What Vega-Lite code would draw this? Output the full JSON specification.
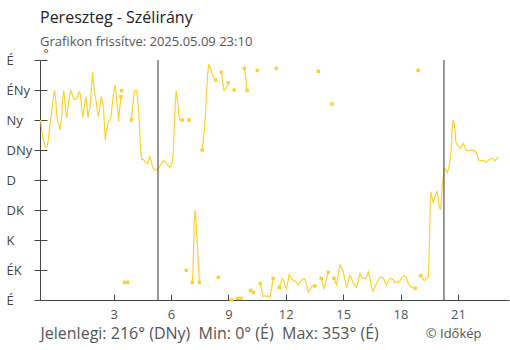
{
  "$schema": "https://vega.github.io/schema/vega-lite/v6.json",
  "width": 469,
  "height": 240,
  "autosize": {"type": "none"},
  "padding": {"left": 40, "top": 60, "right": 1, "bottom": 50},
  "background": "white",
  "config": {"view": {"stroke": null}, "font": "Open Sans"},
  "title": {
    "text": "Pereszteg - Szélirány",
    "subtitle": "Grafikon frissítve: 2025.05.09 23:10",
    "anchor": "start",
    "frame": "group",
    "fontSize": 16,
    "fontWeight": "normal",
    "color": "#222",
    "subtitleFontSize": 13,
    "subtitleColor": "#555",
    "subtitlePadding": 10,
    "offset": -2
  },
  "datasets": {
    "wind": [
      {"h":-0.82,"deg":270},{"h":-0.76,"deg":255},{"h":-0.71,"deg":244.5},{"h":-0.63,"deg":235.5},{"h":-0.59,"deg":229.5},{"h":-0.47,"deg":229.5},{"h":-0.42,"deg":240},{"h":-0.37,"deg":252.5},{"h":-0.29,"deg":270},{"h":-0.24,"deg":282.5},{"h":-0.19,"deg":295.5},{"h":-0.12,"deg":310.5},{"h":-0.08,"deg":314},{"h":-0.03,"deg":300},{"h":0.02,"deg":280.5},{"h":0.07,"deg":267.5},{"h":0.16,"deg":262.5},{"h":0.21,"deg":255},{"h":0.26,"deg":267.5},{"h":0.30,"deg":282.5},{"h":0.35,"deg":305},{"h":0.39,"deg":314},{"h":0.44,"deg":300},{"h":0.49,"deg":285},{"h":0.54,"deg":273},{"h":0.60,"deg":285},{"h":0.65,"deg":297.5},{"h":0.70,"deg":307.5},{"h":0.75,"deg":314},{"h":0.81,"deg":310.5},{"h":0.86,"deg":305},{"h":0.94,"deg":301},{"h":1.03,"deg":301},{"h":1.12,"deg":305},{"h":1.17,"deg":310.5},{"h":1.22,"deg":312.5},{"h":1.28,"deg":305},{"h":1.33,"deg":288},{"h":1.38,"deg":273},{"h":1.43,"deg":282.5},{"h":1.50,"deg":295.5},{"h":1.55,"deg":305},{"h":1.60,"deg":292.5},{"h":1.66,"deg":273},{"h":1.71,"deg":282.5},{"h":1.76,"deg":288},{"h":1.83,"deg":315},{"h":1.87,"deg":330},{"h":1.90,"deg":342.5},{"h":1.93,"deg":330},{"h":1.99,"deg":315},{"h":2.04,"deg":305},{"h":2.09,"deg":297.5},{"h":2.14,"deg":285},{"h":2.20,"deg":275},{"h":2.25,"deg":282.5},{"h":2.30,"deg":292.5},{"h":2.35,"deg":305},{"h":2.40,"deg":300},{"h":2.46,"deg":290},{"h":2.51,"deg":267.5},{"h":2.56,"deg":240},{"h":2.61,"deg":250.5},{"h":2.67,"deg":260},{"h":2.72,"deg":267.5},{"h":2.81,"deg":269},{"h":2.86,"deg":275},{"h":2.91,"deg":288},{"h":2.96,"deg":303},{"h":3.02,"deg":315},{"h":3.07,"deg":322.5},{"h":3.12,"deg":312.5},{"h":3.17,"deg":295.5},{"h":3.23,"deg":280.5},{"h":3.26,"deg":267.5},{"h":3.29,"deg":280.5},{"h":3.35,"deg":295.5},{"h":3.38,"deg":305},
      {"h":3.40,"deg":null},
      {"h":3.42,"deg":314},
      {"h":3.48,"deg":null},
      {"h":3.56,"deg":26.5},
      {"h":3.64,"deg":null},
      {"h":3.73,"deg":26.5},
      {"h":3.82,"deg":null},
      {"h":3.92,"deg":270},{"h":3.99,"deg":290},{"h":4.05,"deg":305},{"h":4.10,"deg":314},{"h":4.20,"deg":314},{"h":4.26,"deg":300},{"h":4.31,"deg":280.5},{"h":4.36,"deg":255},{"h":4.41,"deg":225},{"h":4.47,"deg":211},{"h":4.55,"deg":211},{"h":4.64,"deg":207.5},{"h":4.73,"deg":205},{"h":4.78,"deg":204},{"h":4.83,"deg":210},{"h":4.90,"deg":215},{"h":4.97,"deg":207.5},{"h":5.04,"deg":200},{"h":5.11,"deg":196},{"h":5.18,"deg":194},{"h":5.25,"deg":196},{"h":5.34,"deg":197.5},{"h":5.42,"deg":201},{"h":5.51,"deg":205},{"h":5.60,"deg":209},{"h":5.69,"deg":207.5},{"h":5.77,"deg":205},{"h":5.86,"deg":201},{"h":5.94,"deg":199},{"h":6.00,"deg":201},{"h":6.06,"deg":205},{"h":6.12,"deg":222.5},{"h":6.17,"deg":257.5},{"h":6.22,"deg":295},{"h":6.27,"deg":314},{"h":6.31,"deg":305},{"h":6.36,"deg":295},{"h":6.41,"deg":277.5},{"h":6.47,"deg":270},{"h":6.59,"deg":270},
      {"h":6.70,"deg":null},
      {"h":6.80,"deg":44.5},
      {"h":6.88,"deg":null},
      {"h":6.95,"deg":270},
      {"h":7.03,"deg":null},
      {"h":7.11,"deg":26.5},{"h":7.15,"deg":42.5},{"h":7.18,"deg":77.5},{"h":7.21,"deg":115},{"h":7.27,"deg":135},{"h":7.30,"deg":120},{"h":7.36,"deg":90},{"h":7.41,"deg":65},{"h":7.46,"deg":40},{"h":7.48,"deg":26.5},
      {"h":7.56,"deg":null},
      {"h":7.63,"deg":225},{"h":7.65,"deg":229},{"h":7.71,"deg":245},{"h":7.76,"deg":260},{"h":7.81,"deg":282.5},{"h":7.86,"deg":310},{"h":7.91,"deg":337.5},{"h":7.97,"deg":352.5},{"h":8.02,"deg":350},{"h":8.07,"deg":347.5},{"h":8.12,"deg":342.5},{"h":8.18,"deg":337.5},{"h":8.23,"deg":334},{"h":8.28,"deg":331},{"h":8.33,"deg":330},
      {"h":8.40,"deg":null},
      {"h":8.47,"deg":34},
      {"h":8.55,"deg":null},
      {"h":8.63,"deg":341.5},{"h":8.66,"deg":337.5},{"h":8.71,"deg":325},{"h":8.77,"deg":314},{"h":8.82,"deg":316},{"h":8.87,"deg":317.5},{"h":8.94,"deg":321},{"h":8.99,"deg":326},
      {"h":9.07,"deg":null},
      {"h":9.16,"deg":0},
      {"h":9.23,"deg":null},
      {"h":9.30,"deg":315},
      {"h":9.39,"deg":null},
      {"h":9.48,"deg":2.5},{"h":9.65,"deg":2.5},
      {"h":9.74,"deg":null},
      {"h":9.83,"deg":347.5},{"h":9.86,"deg":342.5},{"h":9.92,"deg":331},{"h":9.95,"deg":320},{"h":9.98,"deg":314.5},
      {"h":10.07,"deg":null},
      {"h":10.16,"deg":14.5},{"h":10.30,"deg":11.5},
      {"h":10.40,"deg":null},
      {"h":10.51,"deg":344.5},
      {"h":10.58,"deg":null},
      {"h":10.66,"deg":24.5},{"h":10.74,"deg":15},{"h":10.82,"deg":5},{"h":10.91,"deg":6.5},{"h":11.00,"deg":5},{"h":11.08,"deg":6.5},{"h":11.17,"deg":3.5},{"h":11.26,"deg":17.5},{"h":11.34,"deg":32.5},
      {"h":11.42,"deg":null},
      {"h":11.50,"deg":347.5},
      {"h":11.58,"deg":null},
      {"h":11.66,"deg":19},{"h":11.73,"deg":25},{"h":11.81,"deg":32.5},{"h":11.90,"deg":28.5},{"h":11.99,"deg":20},{"h":12.04,"deg":16.5},{"h":12.11,"deg":27.5},{"h":12.18,"deg":38.5},{"h":12.25,"deg":35},{"h":12.36,"deg":30},{"h":12.48,"deg":28.5},{"h":12.57,"deg":26.5},{"h":12.65,"deg":22.5},{"h":12.74,"deg":26.5},{"h":12.86,"deg":31.5},{"h":13.00,"deg":31.5},{"h":13.09,"deg":22.5},{"h":13.17,"deg":11.5},{"h":13.26,"deg":15},{"h":13.35,"deg":20},{"h":13.43,"deg":21.5},{"h":13.52,"deg":21},
      {"h":13.61,"deg":null},
      {"h":13.70,"deg":343},
      {"h":13.77,"deg":null},
      {"h":13.85,"deg":32.5},{"h":13.90,"deg":28.5},{"h":13.99,"deg":17.5},{"h":14.08,"deg":25},{"h":14.15,"deg":35},{"h":14.22,"deg":41.5},
      {"h":14.32,"deg":null},
      {"h":14.41,"deg":294},
      {"h":14.47,"deg":null},
      {"h":14.52,"deg":32.5},{"h":14.57,"deg":28.5},{"h":14.66,"deg":22.5},{"h":14.74,"deg":37.5},{"h":14.83,"deg":52.5},{"h":14.92,"deg":48.5},{"h":15.00,"deg":43.5},{"h":15.09,"deg":30},{"h":15.18,"deg":17.5},{"h":15.26,"deg":27.5},{"h":15.35,"deg":37.5},{"h":15.44,"deg":31.5},{"h":15.53,"deg":25},{"h":15.61,"deg":22.5},{"h":15.70,"deg":18.5},{"h":15.79,"deg":27.5},{"h":15.88,"deg":40},{"h":15.96,"deg":35},{"h":16.05,"deg":32.5},{"h":16.14,"deg":31.5},{"h":16.23,"deg":35},{"h":16.31,"deg":42.5},{"h":16.40,"deg":32.5},{"h":16.49,"deg":17.5},{"h":16.57,"deg":13.5},{"h":16.66,"deg":20},{"h":16.75,"deg":25},{"h":16.83,"deg":30},{"h":16.92,"deg":33.5},{"h":17.01,"deg":34.5},{"h":17.09,"deg":33.5},{"h":17.18,"deg":27.5},{"h":17.27,"deg":22.5},{"h":17.35,"deg":27.5},{"h":17.44,"deg":31.5},{"h":17.53,"deg":32.5},{"h":17.62,"deg":30},{"h":17.70,"deg":26.5},{"h":17.88,"deg":26.5},{"h":17.97,"deg":28.5},{"h":18.06,"deg":33.5},{"h":18.18,"deg":36.5},{"h":18.28,"deg":35},{"h":18.35,"deg":28.5},{"h":18.44,"deg":23.5},{"h":18.53,"deg":20},{"h":18.66,"deg":18.5},{"h":18.77,"deg":17.5},
      {"h":18.85,"deg":null},
      {"h":18.92,"deg":344.5},
      {"h":18.99,"deg":null},
      {"h":19.06,"deg":36.5},{"h":19.15,"deg":32.5},{"h":19.24,"deg":29},{"h":19.36,"deg":32.5},{"h":19.45,"deg":35},{"h":19.48,"deg":55},{"h":19.52,"deg":97.5},{"h":19.55,"deg":140},{"h":19.59,"deg":162.5},{"h":19.64,"deg":154},{"h":19.71,"deg":146},{"h":19.78,"deg":154},{"h":19.85,"deg":160},{"h":19.90,"deg":162.5},{"h":19.97,"deg":152.5},{"h":20.02,"deg":140},{"h":20.09,"deg":135},{"h":20.15,"deg":157.5},{"h":20.20,"deg":175},{"h":20.25,"deg":187.5},{"h":20.30,"deg":197.5},{"h":20.37,"deg":195},{"h":20.44,"deg":191},{"h":20.51,"deg":197.5},{"h":20.58,"deg":207.5},{"h":20.63,"deg":220},{"h":20.67,"deg":237.5},{"h":20.70,"deg":257.5},{"h":20.75,"deg":270},{"h":20.81,"deg":262.5},{"h":20.86,"deg":250},{"h":20.89,"deg":237.5},{"h":20.96,"deg":232.5},{"h":21.05,"deg":230},{"h":21.14,"deg":227.5},{"h":21.22,"deg":232.5},{"h":21.28,"deg":235},{"h":21.35,"deg":230},{"h":21.42,"deg":224},{"h":21.54,"deg":224},{"h":21.71,"deg":225},{"h":21.84,"deg":224},{"h":21.94,"deg":222.5},{"h":22.01,"deg":217.5},{"h":22.08,"deg":210},{"h":22.24,"deg":209},{"h":22.36,"deg":209},{"h":22.46,"deg":206.5},{"h":22.57,"deg":209},{"h":22.67,"deg":211},{"h":22.76,"deg":212.5},{"h":22.84,"deg":211},{"h":22.93,"deg":209},{"h":23.02,"deg":211},{"h":23.10,"deg":215}
    ],
    "sun": [{"h": 5.32, "event": "napkelte"}, {"h": 20.27, "event": "napnyugta"}]
  },
  "resolve": {"axis": {"x": "independent", "y": "independent"}},
  "layer": [
    {
      "data": {"name": "wind"},
      "mark": {"type": "line", "color": "#FFD12E", "strokeWidth": 1.2},
      "encoding": {
        "x": {
          "field": "h", "type": "quantitative",
          "scale": {"domain": [-0.85, 23.67], "nice": false, "zero": false},
          "axis": {
            "orient": "bottom",
            "values": [3, 6, 9, 12, 15, 18, 21],
            "format": "d",
            "grid": false,
            "tickSize": -6,
            "tickColor": "#444",
            "domainColor": "#444",
            "labelFontSize": 13,
            "labelColor": "#555",
            "labelPadding": 14,
            "title": "Jelenlegi: 216° (DNy)\u00a0 Min: 0° (É)\u00a0 Max: 353° (É)",
            "titleFontSize": 16,
            "titleFontWeight": "normal",
            "titleColor": "#555",
            "titleAnchor": "start",
            "titleAlign": "left",
            "titleBaseline": "alphabetic",
            "titleX": 0,
            "titleY": 38
          }
        },
        "y": {
          "field": "deg", "type": "quantitative",
          "scale": {"domain": [0, 360], "nice": false, "zero": false},
          "axis": {
            "orient": "left",
            "values": [0, 45, 90, 135, 180, 225, 270, 315, 360],
            "labelExpr": "['É','ÉK','K','DK','D','DNy','Ny','ÉNy','É'][round(datum.value/45)]",
            "grid": false,
            "tickSize": 6,
            "tickColor": "#444",
            "domainColor": "#444",
            "labelFontSize": 13,
            "labelColor": "#444",
            "labelAlign": "left",
            "labelPadding": 28,
            "title": "°",
            "titleAngle": 0,
            "titleFontSize": 12,
            "titleFontWeight": "normal",
            "titleColor": "#444",
            "titleAlign": "left",
            "titleBaseline": "alphabetic",
            "titleX": 3,
            "titleY": -3
          }
        }
      }
    },
    {
      "data": {"name": "wind"},
      "transform": [
        {"window": [{"op": "lag", "field": "deg", "as": "prev"}, {"op": "lead", "field": "deg", "as": "next"}], "sort": [{"field": "h", "order": "ascending"}]},
        {"filter": "isValid(datum.deg) && (!isValid(datum.prev) || !isValid(datum.next)) && datum.h > -0.8 && datum.h < 23.05"}
      ],
      "mark": {"type": "square", "color": "#FFD12E", "size": 12, "opacity": 1},
      "encoding": {
        "x": {"field": "h", "type": "quantitative", "axis": null},
        "y": {
          "field": "deg", "type": "quantitative",
          "axis": {
            "orient": "left",
            "values": [0, 45, 90, 135, 180, 225, 270, 315, 360],
            "labels": false,
            "domain": false,
            "grid": false,
            "tickSize": -7,
            "tickColor": "#444",
            "title": null
          }
        }
      }
    },
    {
      "data": {"name": "sun"},
      "mark": {"type": "rule", "color": "#333", "strokeWidth": 1},
      "encoding": {
        "x": {
          "field": "h", "type": "quantitative",
          "axis": {
            "orient": "bottom",
            "labels": false,
            "ticks": false,
            "domain": false,
            "grid": false,
            "title": "© Időkép",
            "titleFontSize": 13,
            "titleFontWeight": "normal",
            "titleColor": "#555",
            "titleAlign": "right",
            "titleBaseline": "alphabetic",
            "titleX": 441,
            "titleY": 37
          }
        }
      }
    }
  ]
}
